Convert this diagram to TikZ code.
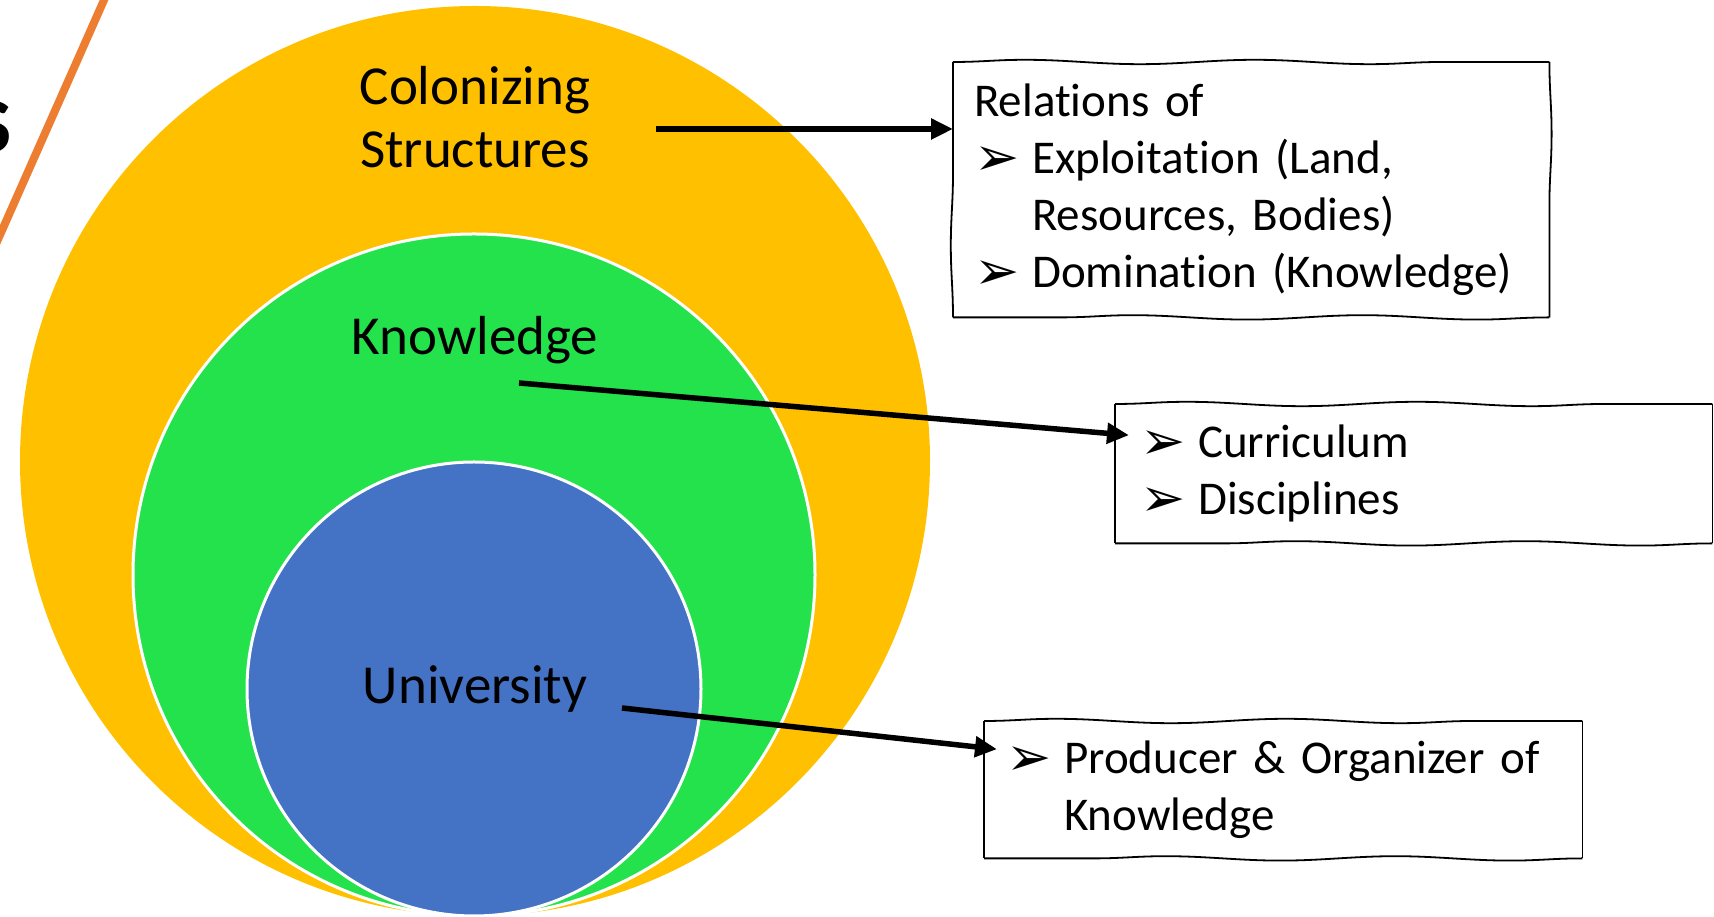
\documentclass[tikz,border=0pt]{standalone}
\usepackage{fontspec}
\setmainfont{Carlito}[Ligatures=NoCommon]
\newfontfamily\symfont{DejaVu Sans}
\usetikzlibrary{arrows.meta,decorations.pathmorphing}
\definecolor{colgold}{HTML}{FFC000}
\definecolor{colgreen}{HTML}{23E24B}
\definecolor{colblue}{HTML}{4472C4}
\definecolor{colorange}{HTML}{ED7D31}
\newcommand{\bul}{\makebox[58pt][l]{\raisebox{-2pt}{\symfont\fontsize{54}{54}\selectfont ➢}}}
\begin{document}
\begin{tikzpicture}[x=1pt,y=1pt,
    lbl/.style={font=\fontsize{55}{63}\selectfont, align=center},
    sketchbox/.style={anchor=north west, font=\fontsize{47}{57}\selectfont, align=left,
      inner xsep=21pt, text width=#1},
    sketch/.style={line width=1.8pt, decorate,
      decoration={snake, segment length=230pt, amplitude=2.2pt}},
    arr/.style={-{Triangle[length=22pt,width=20pt]}, line width=5.5pt}]
  \useasboundingbox (0,0) rectangle (1714,917);
  \begin{scope}
    \clip (0,0) rectangle (1714,917);
    \draw[colorange, line width=8pt] (112,935) -- (-8,664);
    \node[anchor=base east, inner sep=0pt, font=\fontsize{104}{104}\selectfont\bfseries] (ttl) at (12,764) {s};
    % nested circles
    \fill[colgold] (475,456) circle[radius=455pt];
    \filldraw[fill=colgreen, draw=white, line width=3pt] (474,342) circle[radius=341pt];
    \filldraw[fill=colblue, draw=white, line width=3pt] (474,228) circle[radius=227pt];
  \end{scope}
  \node[lbl] (col) at (475,800) {Colonizing\\Structures};
  \node[lbl] (kno) at (475,577) {Knowledge};
  \node[lbl] (uni) at (475,228) {University};
  \node[sketchbox=554pt, minimum height=255pt] (rel) at (953,855)
    {Relations of\\
     \bul Exploitation (Land,\\
     \hspace*{58pt}Resources, Bodies)\\
     \bul Domination (Knowledge)};
  \node[sketchbox=547pt, minimum height=139pt, inner xsep=25pt] (cur) at (1115,513)
    {\bul Curriculum\\
     \bul Disciplines};
  \node[sketchbox=554pt, minimum height=137pt, inner xsep=22pt] (pro) at (984,196)
    {\bul Producer \& Organizer of\\
     \hspace*{58pt}Knowledge};
  % hand-drawn frames
  \foreach \b in {rel,cur,pro} {
    \draw[sketch] (\b.north west) -- (\b.north east);
    \draw[sketch] (\b.north east) -- (\b.south east);
    \draw[sketch] (\b.south east) -- (\b.south west);
    \draw[sketch] (\b.south west) -- (\b.north west);
  }
  \coordinate (colend) at (656,788);
  \coordinate (knoend) at (519,534);
  \coordinate (uniend) at (622,209);
  \draw[arr] (colend) -- (colend -| rel.west);
  \draw[arr] (knoend) -- ([xshift=14pt,yshift=38.5pt]cur.west);
  \draw[arr] (uniend) -- ([xshift=13pt,yshift=40.5pt]pro.west);
\end{tikzpicture}
\end{document}
